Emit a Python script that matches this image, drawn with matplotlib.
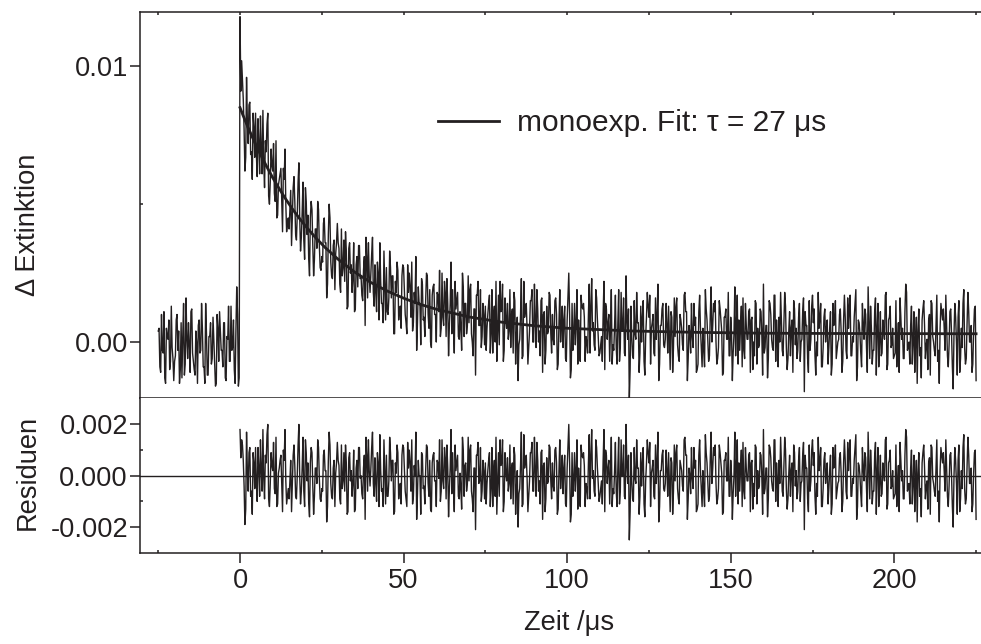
import numpy as np
import matplotlib
matplotlib.use('Agg')
from matplotlib import pyplot as plt
from matplotlib.ticker import FixedLocator

plt.rcParams['font.family'] = ['Liberation Sans', 'DejaVu Sans']

# time grid of the measured trace (microseconds); two interleaved sample sets
t_start = -25.0
t_step = 0.5

# measured transient, units of 1e-4 extinction, t = -25, -24.5 ... 225 us
trace_e4 = [
    4, -9, 10, -4, -13, 5, 1, -10, 13, -6,
    -7, 8, -3, -15, 7, 2, -12, 16, -6, -1,
    11, -4, -10, 4, -15, 8, -3, 5, -9, 14,
    -12, 2, 7, -6, 1, -16, 10, -7, 4, -3,
    7, -13, 2, 13, -7, -3, 8, -15, 20, -16,
    118, 102, 88, 62, 96, 72, 87, 69, 83, 67,
    68, 81, 61, 70, 84, 56, 69, 83, 50, 70,
    62, 54, 73, 46, 59, 63, 40, 59, 50, 43,
    41, 55, 45, 60, 39, 46, 65, 33, 47, 37,
    56, 39, 30, 45, 48, 24, 41, 34, 48, 27,
    31, 43, 36, 16, 39, 45, 24, 35, 19, 36,
    36, 21, 41, 27, 22, 33, 13, 36, 28, 23,
    11, 28, 20, 35, 24, 15, 31, 38, 16, 24,
    25, 38, 13, 18, 29, 8, 22, 14, 33, 8,
    11, 16, 27, 24, 3, 22, 29, 8, 13, 24,
    27, 10, 3, 18, 20, 29, 7, 14, -3, 20,
    14, 23, 8, 2, 25, 10, 19, -2, 20, 10,
    0, 17, 26, 5, 9, 22, 2, 14, 6, 29,
    19, -4, 12, 18, 1, 5, 25, 2, 14, 6,
    7, 21, 0, 12, -12, 17, 6, 19, 2, 10,
    13, 5, 14, -4, 19, 10, 0, -7, 17, 22,
    12, -7, 16, 5, 1, 19, 10, -4, 15, 2,
    -14, 1, 23, -5, 9, 14, -8, 4, 15, 0,
    21, -2, 12, 4, 15, -11, 11, -3, 3, 18,
    3, 10, -1, 16, -10, 7, 0, 13, 8, -6,
    8, 25, -13, 14, 3, -1, 19, 8, -7, 13,
    14, -7, 0, 10, -4, 23, 7, -3, 16, 2,
    -4, 2, 10, -10, 12, 7, -7, 19, -1, 6,
    -2, 7, -7, 18, 4, -4, 24, 1, -21, 13,
    -5, 15, 1, 7, -11, 13, 9, -7, 2, 18,
    9, -8, 7, -4, 16, 10, -14, 6, 12, -1,
    1, 6, 13, -10, 9, -2, 2, 16, -5, 10,
    5, -3, 18, 11, -6, 3, 14, -2, 6, -11,
    -8, 17, -2, 5, -9, 12, 0, -5, 20, 6,
    11, 0, -6, 15, 8, -12, 9, 12, 1, -5,
    9, -14, 3, -5, 17, 8, 6, -9, -3, 14,
    1, 11, -11, 9, 0, 15, -8, -2, 12, 3,
    21, -2, 6, -6, 14, 1, -3, 17, 8, -9,
    0, 8, -5, 18, -2, -6, 11, 5, -11, 12,
    5, -3, 14, 0, 11, -18, 6, -6, 15, 1,
    17, 12, -12, -5, 5, 14, -9, 9, 0, 8,
    -2, 11, -8, 6, 15, -3, 1, 12, -11, 8,
    9, -6, 5, 17, -5, 0, 14, -14, 8, 3,
    -9, 6, 12, -2, 20, -6, 5, -3, 11, -12,
    14, 0, -5, 8, 1, 18, -8, 9, -2, 5,
    -5, 15, 0, -11, 9, 5, -6, 21, -3, 0,
    6, -8, 11, 1, -15, 12, -2, 8, 15, -6,
    1, 8, -12, 14, 0, -5, 17, -3, 5, 11,
    12, -3, 6, -9, 11, 3, -17, 14, 0, 9,
    -11, 5, 14, -2, -6, 18, 0, 6, -8, 12,
    -14,
]

# in-between samples, t = -24.75, -24.25 ... 224.75 us
trace_mid_e4 = [
    5, -11, -3, 11, -15, 2, 8, -7, -2, -14,
    -5, 10, 4, -10, -13, 14, -8, 1, 7, -11,
    12, -7, -12, 0, 6, -4, 14, -9, -15, 3,
    -12, 2, -8, 9, -6, -15, 5, 11, -3, -9,
    7, -14, 1, -7, 13, -2, -10, 4, 10, -13,
    91, 95, 77, 67, 80, 86, 68, 59, 78, 83,
    60, 72, 82, 61, 65, 73, 79, 53, 58, 64,
    72, 51, 45, 57, 61, 51, 63, 70, 40, 45,
    48, 35, 56, 51, 37, 58, 45, 38, 58, 30,
    51, 46, 24, 51, 35, 30, 41, 51, 35, 26,
    29, 45, 36, 21, 50, 29, 23, 37, 32, 43,
    34, 18, 24, 37, 40, 12, 34, 25, 18, 36,
    12, 31, 35, 23, 17, 26, 6, 31, 36, 18,
    32, 18, 28, 11, 25, 36, 14, 7, 21, 27,
    10, 33, 16, 24, 3, 18, 26, 12, 5, 28,
    19, 7, 28, 25, 9, 4, 18, 31, 7, 14,
    -1, 21, 9, 15, 24, 5, 0, 17, 21, 10,
    18, 11, 2, 25, 6, 18, 23, -5, 14, 3,
    6, 22, 15, 2, 11, -3, 20, 14, 3, 24,
    19, 3, -5, 12, 17, 22, 6, -2, 14, -1,
    -3, 10, 17, 3, -4, 13, 22, 4, -1, 11,
    21, -3, 8, 14, 4, -2, 12, 18, -8, 9,
    -1, 10, -6, 22, 12, 5, -2, 15, 19, 0,
    8, 19, 0, -5, 16, 10, -8, 13, 4, 17,
    -4, 1, 15, 10, -8, 19, 6, -2, 13, -7,
    16, 10, -10, -3, 14, 7, -8, 1, 17, 12,
    9, 2, -4, 21, 13, 4, -1, 19, 8, -5,
    -1, -7, 22, 14, 1, 10, 5, -8, -3, 17,
    -8, 19, -2, 4, 16, -5, 8, 12, -10, 2,
    -6, 3, 18, 7, -4, 0, 15, -12, 9, 13,
    17, 5, 10, -5, 1, 21, -8, 6, 14, -2,
    14, -4, 2, 11, -11, 16, 13, -1, -7, 8,
    -1, 17, 11, -14, 6, -4, 2, 14, 9, -10,
    11, 5, -9, -3, 19, 8, -7, 10, 0, 14,
    15, -8, -2, 12, 4, -11, 9, 1, 18, -5,
    3, -4, 20, 7, -8, -3, 13, 16, -6, 6,
    1, 12, 8, -10, -5, 14, 5, -1, 11, -12,
    -4, 6, -13, 15, 10, -2, 17, -7, 2, 9,
    18, -3, 7, 13, -10, 4, -5, 8, 15, -1,
    -6, 9, -7, 1, 16, 11, 6, -11, -3, 13,
    7, -5, 0, 18, 9, -9, -2, 12, 5, -8,
    5, -12, 14, 8, -6, 0, 10, 4, -7, 17,
    -3, 16, 12, -5, 2, 9, 19, -9, 7, -4,
    14, 1, 10, -11, 7, 13, -8, -3, 16, 5,
    -9, 11, -4, 4, 17, -10, 8, 13, -1, -6,
    -4, -9, 7, 16, 1, -6, 11, 18, -2, -8,
    13, 0, -11, 9, 4, -5, -13, 12, 6, -1,
    -10, 10, 15, 2, -3, 6, -7, -15, 14, 8,
    5, 17, -5, -1, 12, -9, 3, 9, -12, 15,
    -6, -2, 19, -8, 7, 11, 0, -11, 4, 13,
]

# residuals of the fit, units of 1e-4, t = 0, 0.5 ... 225 us
resid_start = 0.0
resid_e4 = [
    18, 14, 6, -19, 17, -6, 11, -6, 9, -5,
    -3, 11, -8, 2, 18, -9, 5, 20, -12, 9,
    2, -5, 15, -11, 3, 8, -14, 6, -2, -8,
    -9, 6, -3, 12, -8, 0, 20, -11, 3, -6,
    14, -2, -11, 5, 9, -15, 3, -3, 11, -9,
    -5, 8, 2, -18, 6, 12, -8, 3, -12, 5,
    6, -9, 12, -2, -6, 5, -14, 9, 2, -3,
    -14, 3, -5, 11, 0, -9, 8, 15, -6, 2,
    3, 17, -8, -3, 9, -12, 2, -5, 14, -11,
    -8, -2, 9, 6, -15, 5, 12, -9, -3, 8,
    11, -6, -12, 3, 5, 14, -8, 0, -17, 6,
    0, 9, -5, -11, 12, -3, 6, -14, 8, -2,
    -12, 5, 14, -6, -2, 11, -9, 3, -5, 18,
    9, -14, 2, 8, -9, -5, 15, -8, 5, -3,
    -2, 12, -9, 3, -21, 8, -3, 11, -6, 2,
    5, -3, 6, -12, 11, 2, -8, -15, 9, 14,
    5, -14, 9, -2, -6, 12, 3, -11, 8, -5,
    -20, -5, 17, -11, 3, 8, -14, -2, 9, -6,
    15, -8, 6, -2, 9, -17, 5, -9, -3, 12,
    -2, 5, -6, 11, -15, 2, -5, 8, 3, -11,
    3, 20, -18, 9, -2, -6, 14, 3, -12, 8,
    9, -12, -5, 5, -9, 18, 2, -8, 11, -3,
    -8, -2, 6, -14, 8, 3, -11, 15, -5, 2,
    -6, 3, -11, 14, 0, -8, 20, -3, -25, 9,
    -9, 11, -3, 3, -15, 9, 5, -11, -2, 14,
    5, -12, 3, -8, 12, 6, -18, 2, 8, -5,
    -3, 2, 9, -14, 5, -6, -2, 12, -9, 6,
    2, -6, 15, 8, -9, 0, 11, -5, 3, -14,
    -11, 14, -5, 2, -12, 9, -3, -8, 17, 3,
    8, -3, -9, 12, 5, -15, 6, 9, -2, -8,
    6, -17, 0, -8, 14, 5, 3, -12, -6, 11,
    -2, 8, -14, 6, -3, 12, -11, -5, 9, 0,
    18, -5, 3, -9, 11, -2, -6, 14, 5, -12,
    -3, 5, -8, 15, -5, -9, 8, 2, -14, 9,
    2, -6, 11, -3, 8, -21, 3, -9, 12, -2,
    14, 9, -15, -8, 2, 11, -12, 6, -3, 5,
    -5, 8, -11, 3, 12, -6, -2, 9, -14, 5,
    6, -9, 2, 14, -8, -3, 11, -17, 5, 0,
    -12, 3, 9, -5, 17, -9, 2, -6, 8, -15,
    11, -3, -8, 5, -2, 15, -11, 6, -5, 2,
    -8, 12, -3, -14, 6, 2, -9, 18, -6, -3,
    3, -11, 8, -2, -18, 9, -5, 5, 12, -9,
    -2, 5, -15, 11, -3, -8, 14, -6, 2, 8,
    9, -6, 3, -12, 8, 0, -20, 11, -3, 6,
    -14, 2, 11, -5, -9, 15, -3, 3, -11, 9,
    -17,
]

# in-between residuals, t = 0.25, 0.75 ... 224.75 us
resid_mid_e4 = [
    7, 12, -4, -13, 2, 9, -8, -15, 5, 11,
    -10, 3, 14, -6, -1, 8, 16, -9, -3, 4,
    13, -7, -12, 1, 6, -3, 10, 18, -11, -5,
    -2, -14, 8, 4, -9, 12, 0, -6, 15, -12,
    9, 5, -16, 11, -4, -8, 3, 14, -1, -10,
    -6, 10, 2, -12, 17, -3, -9, 6, 1, 13,
    4, -11, -5, 9, 12, -15, 7, -2, -8, 10,
    -13, 6, 11, -1, -7, 3, -17, 8, 14, -4,
    11, -3, 7, -10, 5, 16, -6, -12, 2, 8,
    -8, 15, -2, 6, -14, 1, 9, -5, -11, 12,
    3, -9, 13, 10, -6, -11, 4, 17, -7, 0,
    -15, 8, -4, 2, 11, -8, -13, 5, 9, -2,
    6, -1, -10, 14, -5, 7, 12, -16, 3, -7,
    -4, 12, 5, -8, 1, -13, 10, 4, -6, 15,
    10, -6, -14, 3, 8, 13, -2, -10, 6, -9,
    -11, 2, 9, -5, -12, 6, 15, -3, -8, 4,
    14, -10, 1, 7, -3, -9, 5, 11, -15, 2,
    -7, 4, -12, 16, 6, -1, -8, 9, 13, -6,
    2, 13, -6, -11, 10, 4, -14, 7, -2, 11,
    -9, -4, 10, 5, -13, 14, 1, -7, 8, -12,
    11, 5, -15, -8, 9, 2, -13, -4, 12, 7,
    4, -3, -9, 16, 8, -1, -6, 14, 3, -10,
    -5, -11, 18, 10, -3, 6, 1, -12, -7, 13,
    -12, 15, -6, 0, 12, -9, 4, 8, -14, -2,
    -10, -1, 14, 3, -8, -4, 11, -16, 5, 9,
    13, 1, 6, -9, -3, 17, -12, 2, 10, -6,
    10, -8, -2, 7, -15, 12, 9, -5, -11, 4,
    -4, 14, 8, -17, 3, -7, -1, 11, 6, -13,
    8, 2, -12, -6, 16, 5, -10, 7, -3, 11,
    12, -11, -5, 9, 1, -14, 6, -2, 15, -8,
    0, -7, 17, 4, -11, -6, 10, 13, -9, 3,
    -2, 9, 5, -13, -8, 11, 2, -4, 8, -15,
    -7, 3, -16, 12, 7, -5, 14, -10, -1, 6,
    15, -6, 4, 10, -13, 1, -8, 5, 12, -4,
    -9, 6, -10, -2, 13, 8, 3, -14, -6, 10,
    4, -8, -3, 15, 6, -12, -5, 9, 2, -11,
    2, -15, 11, 5, -9, -3, 7, 1, -10, 14,
    -6, 13, 9, -8, -1, 6, 16, -12, 4, -7,
    11, -2, 7, -14, 4, 10, -11, -6, 13, 2,
    -12, 8, -7, 1, 14, -13, 5, 10, -4, -9,
    -7, -12, 4, 13, -2, -9, 8, 15, -5, -11,
    10, -3, -14, 6, 1, -8, -16, 9, 3, -4,
    -13, 7, 12, -1, -6, 3, -10, -18, 11, 5,
    2, 14, -8, -4, 9, -12, 0, 6, -15, 12,
    -9, -5, 16, -11, 4, 8, -3, -14, 1, 10,
]

fit_t = [0, 1, 2, 3, 4, 5, 6, 8, 10, 12, 14, 16, 18, 20, 23, 26, 30, 35,
         40, 45, 50, 55, 60, 70, 80, 90, 100, 120, 140, 160, 180, 200, 225]
fit_e4 = [85.0, 82.0, 79.1, 76.4, 73.7, 71.1, 68.7, 64.0, 59.6, 55.6, 51.8,
          48.3, 45.1, 42.1, 38.0, 34.3, 30.0, 25.4, 21.6, 18.5, 15.9, 13.7,
          11.9, 9.1, 7.2, 5.9, 5.0, 4.0, 3.5, 3.2, 3.1, 3.05, 3.0]

fit_label = 'monoexp. Fit: τ = 27 μs'


def merge(start, main, mid):
    # put the two interleaved sample sets back into time order
    t_a = start + t_step * np.arange(len(main))
    t_b = start + t_step / 2 + t_step * np.arange(len(mid))
    t = np.concatenate([t_a, t_b])
    y = np.concatenate([main, mid]) * 1e-4
    order = np.argsort(t, kind='stable')
    return t[order], y[order]


t_trace, trace = merge(t_start, trace_e4, trace_mid_e4)
t_resid, resid = merge(resid_start, resid_e4, resid_mid_e4)
fit = np.array(fit_e4) * 1e-4

ink = '#231f20'
fs = 19.6

W, H = 981, 644
fig = plt.figure(figsize=(W / 100, H / 100), dpi=100)
ax1 = fig.add_axes([140 / W, 1 - 398 / H, 858 / W, 386 / H])
ax2 = fig.add_axes([140 / W, 1 - 553 / H, 858 / W, 155 / H])

ax1.plot(t_trace, trace, color=ink, lw=1.0)
ax1.plot(fit_t, fit, color=ink, lw=2.0, label=fit_label)
ax2.axhline(0, color=ink, lw=1.0)
ax2.plot(t_resid, resid, color=ink, lw=1.0)

xlim = (-30.57, 231.7)
ax1.set_xlim(*xlim)
ax2.set_xlim(*xlim)
ax1.set_ylim(-0.00203, 0.01197)
ax2.set_ylim(-0.00301, 0.00303)

for ax in (ax1, ax2):
    ax.spines['right'].set_visible(False)
    for s in ax.spines.values():
        s.set_linewidth(1.1)
        s.set_color(ink)
ax2.spines['top'].set_visible(False)

# upper panel ticks
ax1.set_yticks([0, 0.01], ['0.00', '0.01'])
ax1.yaxis.set_minor_locator(FixedLocator([0.005]))
ax1.tick_params(axis='y', which='major', direction='out', length=7.2,
                width=1.1, pad=1.5, labelsize=fs, colors=ink, right=False)
ax1.tick_params(axis='y', which='minor', direction='in', length=2.5,
                width=1.1, color=ink, right=False)
ax1.set_xticks(list(range(-25, 226, 25)))
ax1.tick_params(axis='x', which='both', direction='in', length=2.5, width=1.1,
                color=ink, top=True, bottom=False, labeltop=False,
                labelbottom=False)

# residual panel ticks
ax2.set_yticks([-0.002, 0, 0.002], ['-0.002', '0.000', '0.002'])
ax2.yaxis.set_minor_locator(FixedLocator([-0.001, 0.001]))
ax2.set_xticks([0, 50, 100, 150, 200])
ax2.xaxis.set_minor_locator(FixedLocator([-25, 25, 75, 125, 175, 225]))
ax2.tick_params(which='major', direction='out', length=7.2, width=1.1,
                labelsize=fs, colors=ink, top=False, right=False)
ax2.tick_params(axis='y', which='major', pad=1.5)
ax2.tick_params(axis='x', which='major', pad=3.5)
ax2.tick_params(which='minor', direction='in', length=2.5, width=1.1,
                color=ink, top=False, right=False)

ax1.set_ylabel('Δ Extinktion', fontsize=fs, color=ink)
ax1.yaxis.set_label_coords(-0.1154, 0.448)
ax2.set_ylabel('Residuen', fontsize=fs, color=ink)
ax2.yaxis.set_label_coords(-0.1154, 0.52)
ax2.set_xlabel('Zeit /μs', fontsize=fs, color=ink, va='top')
ax2.xaxis.set_label_coords(0.5, -0.368)

leg = ax1.legend(loc='center left', bbox_to_anchor=(0.3473, 0.7124),
                 frameon=False, fontsize=21.5, handlelength=2.05,
                 handletextpad=0.6, borderpad=0, borderaxespad=0)
for txt in leg.get_texts():
    txt.set_color(ink)

fig.savefig('out.png', dpi=100)
